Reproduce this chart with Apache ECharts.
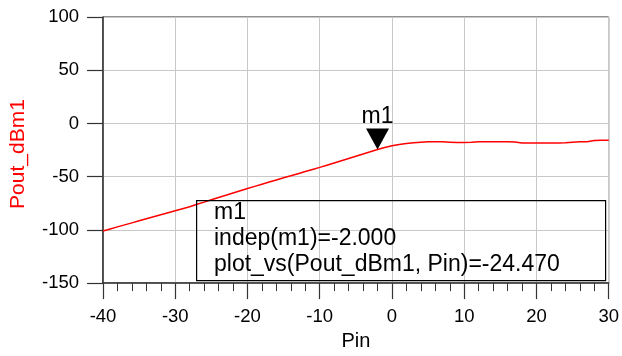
<!DOCTYPE html>
<html>
<head>
<meta charset="utf-8">
<script src="https://cdn.jsdelivr.net/npm/echarts@6/dist/echarts.min.js"></script>
<style>html,body{margin:0;padding:0;background:#fff}#c{width:622px;height:356px}</style>
</head>
<body>
<div id="c"></div>
<script>
const pin = [-40,-39,-38,-37,-36,-35,-34,-33,-32,-31,-30,-29,-28,-27,-26,-25,-24,-23,-22,-21,-20,-19,-18,-17,-16,-15,-14,-13,-12,-11,-10,-9,-8,-7,-6,-5,-4,-3,-2,-1,0,1,2,3,4,5,6,7,8,9,10,11,12,13,14,15,16,17,18,19,20,21,22,23,24,25,26,27,28,29,30];
const poutDbm1 = [-101.0,-99.1,-97.2,-95.3,-93.4,-91.5,-89.6,-87.7,-85.8,-83.9,-82.0,-80.1,-78.2,-76.0,-73.9,-71.7,-69.6,-67.5,-65.3,-63.2,-61.1,-59.1,-57.1,-55.1,-53.1,-51.1,-49.2,-47.2,-45.2,-43.2,-41.3,-39.2,-37.1,-35.0,-32.9,-30.8,-28.7,-26.6,-24.47,-22.6,-21.0,-19.7,-18.9,-18.2,-17.7,-17.3,-17.1,-17.2,-17.6,-18.0,-18.0,-17.7,-17.3,-17.1,-17.1,-17.1,-17.1,-17.4,-18.3,-18.4,-18.4,-18.4,-18.4,-18.4,-18.2,-17.6,-17.3,-17.1,-16.0,-15.9,-15.9];
const markerName = 'm1';
const markerPin = -2.000;
const markerPout = -24.470;
const xTicks = {min: -40, max: 30, step: 10};
const yTicks = {min: -150, max: 100, step: 50};

const font = 'Liberation Sans, Arial, Helvetica, sans-serif';
const chart = echarts.init(document.getElementById('c'), null, {renderer: 'canvas'});
chart.setOption({
  animation: false,
  grid: {left: 102, right: 10, top: 17, bottom: 70, show: true, borderColor: '#222', borderWidth: 1, backgroundColor: 'transparent'},
  xAxis: {
    type: 'value', min: xTicks.min, max: xTicks.max, interval: xTicks.step,
    name: 'Pin', nameLocation: 'middle', nameGap: 47,
    nameTextStyle: {fontFamily: font, fontSize: 20, color: '#000'},
    axisLine: {show: true, onZero: false, lineStyle: {color: '#333', width: 1.5}},
    axisTick: {show: true, inside: false, length: 16, lineStyle: {color: '#333', width: 1.2}},
    minorTick: {show: true, splitNumber: 5, length: 8, lineStyle: {color: '#333', width: 1}},
    axisLabel: {fontFamily: font, fontSize: 18.5, color: '#000', margin: 24},
    splitLine: {show: true, lineStyle: {color: '#c8c8c8', width: 1}}
  },
  yAxis: {
    type: 'value', min: yTicks.min, max: yTicks.max, interval: yTicks.step,
    name: 'Pout_dBm1', nameLocation: 'middle', nameGap: 74, nameRotate: 90,
    nameTextStyle: {fontFamily: font, fontSize: 21, color: '#ff0000', padding: [0, 8, 0, 0]},
    axisLine: {show: true, onZero: false, lineStyle: {color: '#333', width: 1.5}},
    axisTick: {show: true, inside: false, length: 16, lineStyle: {color: '#333', width: 1.2}},
    axisLabel: {fontFamily: font, fontSize: 18.5, color: '#000', margin: 24},
    splitLine: {show: true, lineStyle: {color: '#c8c8c8', width: 1}}
  },
  series: [{
    type: 'line',
    data: pin.map((p, i) => [p, poutDbm1[i]]),
    showSymbol: false,
    lineStyle: {color: '#ff0000', width: 1.5},
    itemStyle: {color: '#ff0000'},
    markPoint: {
      symbol: 'path://M0,0 L23,0 L11.5,21 Z',
      symbolSize: [23, 21],
      symbolOffset: [0, '-50%'],
      itemStyle: {color: '#000'},
      label: {show: true, position: 'top', distance: 0, formatter: markerName, fontFamily: font, fontSize: 23, color: '#000'},
      data: [{coord: [markerPin, markerPout]}]
    }
  }],
  graphic: [
    {type: 'rect', left: 196, top: 200, shape: {width: 409, height: 80}, style: {fill: 'transparent', stroke: '#000', lineWidth: 1.2}, z: 10},
    {type: 'text', left: 214, top: 201, style: {text: markerName, font: '23px ' + font, fill: '#000'}, z: 10},
    {type: 'text', left: 214, top: 227, style: {text: 'indep(' + markerName + ')=' + markerPin.toFixed(3), font: '23px ' + font, fill: '#000'}, z: 10},
    {type: 'text', left: 214, top: 253, style: {text: 'plot_vs(Pout_dBm1, Pin)=' + markerPout.toFixed(3), font: '23px ' + font, fill: '#000'}, z: 10}
  ]
});
</script>
</body>
</html>
